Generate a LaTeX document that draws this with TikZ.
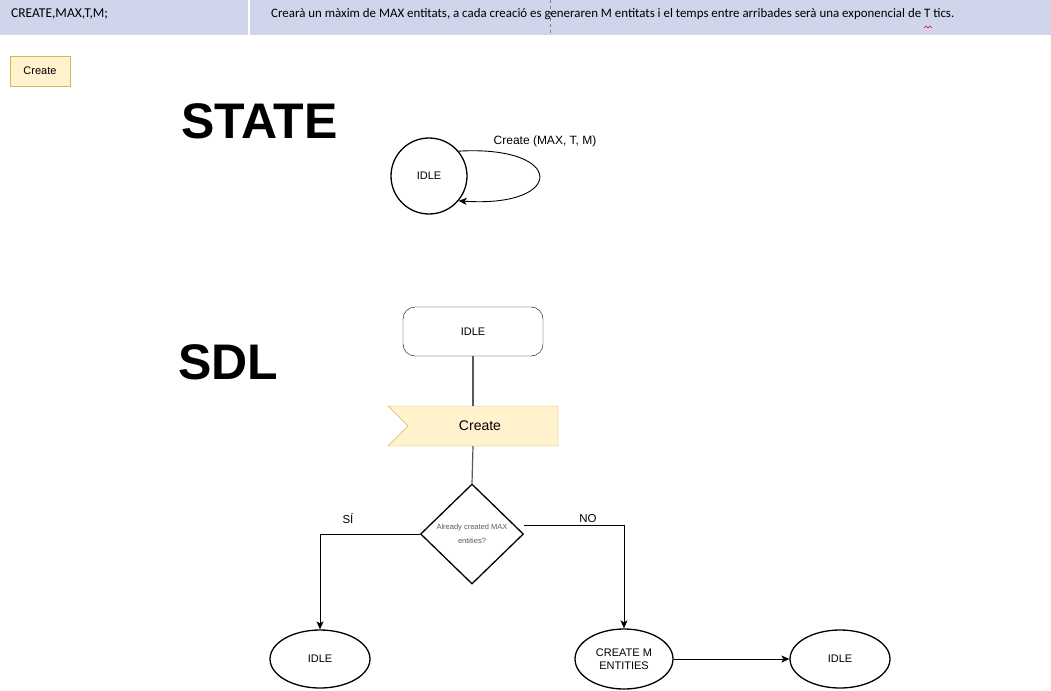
\documentclass[tikz,border=0pt]{standalone}
\usepackage{fontspec}
\setmainfont{Liberation Sans}
\newfontfamily\docfont{Carlito}
\usetikzlibrary{arrows.meta}
\usetikzlibrary{shapes}
\definecolor{hdrbg}{HTML}{CFD5EA}
\definecolor{notebg}{HTML}{FFF2CC}
\definecolor{notefg}{HTML}{D6B656}
\tikzset{
  flow/.style={line width=0.9pt,-{Stealth[length=8pt,width=7pt,inset=2pt]}},
  statenode/.style={ellipse,draw,line width=1.3pt,align=center,font=\fontsize{11}{12.5}\selectfont}
}

\begin{document}
\begin{tikzpicture}[x=1pt,y=-1pt]
    \useasboundingbox (0,0) rectangle (1051,690);
    % Header
    \fill[hdrbg] (0,0) rectangle (1051,35);
    \draw[white,line width=1.5pt] (249,0) -- (249,35);
    \draw[gray,dashed,line width=0.4pt] (550,0) -- (550,35);
    \node[anchor=west,inner sep=0pt,font=\docfont\fontsize{13.5}{15}\selectfont] (hdrcmd) at (11,14) {CREATE,MAX,T,M;};
    \node[anchor=west,inner sep=0pt,font=\docfont\fontsize{12.9}{15}\selectfont] (hdrtxt) at (271,14)
      {Crearà un màxim de MAX entitats, a cada creació es generaren M entitats i el temps entre arribades serà una exponencial de T tics.};
    \draw[red,line width=0.5pt] (924,28) -- (926,26) -- (928,28) -- (930,26) -- (932,28);
    \node[draw=notefg,fill=notebg,minimum width=60pt,minimum height=30pt,inner sep=0pt,
      font=\fontsize{11}{13}\selectfont] (tag) at (40,71) {Create};
    % Titles
    \node[anchor=west,inner sep=0pt,font=\bfseries\fontsize{50}{52}\selectfont] (ttlstate) at (181,121) {STATE};
    \node[anchor=west,inner sep=0pt,font=\bfseries\fontsize{50}{52}\selectfont] (ttlsdl) at (178,362) {SDL};
    % State diagram
    \node[circle,draw,line width=1.3pt,minimum size=76pt,font=\fontsize{11}{12.5}\selectfont] (st) at (429,176) {IDLE};
    \draw[flow] (st.40) .. controls (566,145) and (566,208) .. (st.-40);
    \node[font=\fontsize{12}{14}\selectfont] (stlbl) at (545,141) {Create (MAX, T, M)};
    % SDL
    \node[draw,rounded corners=12pt,minimum width=140pt,minimum height=49pt,
      font=\fontsize{11}{12.5}\selectfont] (sdlidle) at (473,331.5) {IDLE};
    \fill[notebg,draw=notefg] (388,406) -- (558,406) -- (558,446) -- (388,446) -- (408,426) -- cycle;
    \node[font=\fontsize{14}{16}\selectfont] (sig) at (480,426) {Create};
    \coordinate (sigtop) at (473,406);
    \coordinate (sigbot) at (473,446);
    \node[diamond,draw,line width=1.3pt,minimum width=103pt,minimum height=100pt,inner sep=0pt,
      align=center,text=gray!70!black,font=\fontsize{7.5}{14}\selectfont] (ask) at (472,534) {Already created MAX\\entities?};
    \draw[gray!70!black,line width=1.2pt] (sdlidle) -- (sigtop);
    \draw[gray!70!black,line width=1.2pt] (sigbot) -- (ask.north);
    \node[statenode,minimum width=100pt,minimum height=58pt] (idlea) at (320,659) {IDLE};
    \node[statenode,minimum width=98pt,minimum height=60pt,inner sep=0pt] (mkent) at (624,659) {CREATE M\\ENTITIES};
    \node[statenode,minimum width=100pt,minimum height=58pt] (idleb) at (840,659) {IDLE};
    \draw[flow] (ask.west) -| (idlea.north);
    \draw[flow] ([yshift=9pt]ask.east) -| (mkent.north);
    \draw[flow] (mkent) -- (idleb);
    \node[font=\fontsize{11.5}{13}\selectfont] (yes) at (348,519) {SÍ};
    \node[font=\fontsize{11.5}{13}\selectfont] (no) at (588,519) {NO};
\end{tikzpicture}
\end{document}
